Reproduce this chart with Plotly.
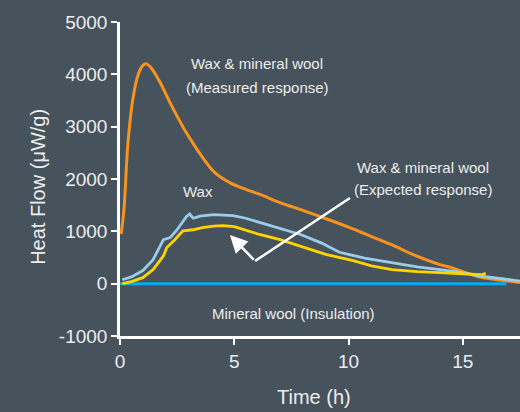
import plotly.graph_objects as go

# ---- data ----
measured_t = [0.05, 0.17, 0.35, 0.57, 0.8, 1.0, 1.15, 1.35, 1.75, 2.2, 2.75, 3.2, 3.6, 4.15, 4.8, 5.45, 6.1,
              7.0, 8.0, 8.9, 10.0, 11.0, 12.0, 12.8, 14.0, 14.5, 15.4, 15.85, 16.6, 17.5]
measured_v = [950, 1400, 2700, 3550, 4000, 4170, 4200, 4130, 3850, 3450, 3000, 2680, 2420, 2120, 1930, 1810, 1710,
              1550, 1400, 1260, 1080, 900, 720, 560, 363, 305, 170, 115, 70, 20]

wax_t = [0.1, 0.5, 1.0, 1.45, 1.9, 2.2, 2.5, 2.9, 3.05, 3.2, 3.5, 4.1, 4.95, 5.5, 6.1, 7.0, 7.9, 8.8,
         9.6, 10.7, 11.9, 13.0, 14.0, 15.0, 15.7, 16.5, 17.5]
wax_v = [75, 130, 250, 460, 840, 880, 1030, 1280, 1330, 1250, 1290, 1320, 1300, 1250, 1170, 1060, 940, 780,
         600, 490, 400, 320, 270, 210, 150, 110, 50]

expected_t = [0.1, 0.5, 1.0, 1.45, 1.9, 2.05, 2.4, 2.6, 2.75, 3.2, 3.6, 4.1, 4.5, 5.0, 6.1, 7.0, 8.0, 9.0,
              10.2, 11.0, 11.9, 13.0, 14.0, 15.0, 15.8, 16.0]
expected_v = [0, 40, 115, 270, 530, 690, 840, 940, 1010, 1030, 1070, 1100, 1110, 1090, 940, 840, 700, 560,
              440, 340, 270, 230, 210, 190, 170, 195]

wool_t = [0.0, 16.9]
wool_v = [0, 0]

y_ticks = [-1000, 0, 1000, 2000, 3000, 4000, 5000]
y_tick_text = ["-1000", "0", "1000", "2000", "3000", "4000", "5000"]
x_ticks = [0, 5, 10, 15]

# pointer: tail -> corner (line), corner -> tip (arrow)
pointer_t = [10.06, 5.91]
pointer_v = [1637, 433]
arrow_tip = (4.81, 930)

BG = "#46525C"
TXT = "#EDEDED"
FONT = "Liberation Sans, Arial"

fig = go.Figure()
fig.add_trace(go.Scatter(x=wool_t, y=wool_v, mode="lines",
                         line=dict(color="#00AEEF", width=3), hoverinfo="skip"))
fig.add_trace(go.Scatter(x=measured_t, y=measured_v, mode="lines", line_shape="spline",
                         line=dict(color="#F7941D", width=3), hoverinfo="skip"))
fig.add_trace(go.Scatter(x=wax_t, y=wax_v, mode="lines",
                         line=dict(color="#9ACCEB", width=2.8), hoverinfo="skip"))
fig.add_trace(go.Scatter(x=expected_t, y=expected_v, mode="lines",
                         line=dict(color="#FFD400", width=2.8), hoverinfo="skip"))
fig.add_trace(go.Scatter(x=pointer_t, y=pointer_v, mode="lines",
                         line=dict(color="white", width=2.5), hoverinfo="skip"))

font_lbl = dict(family=FONT, size=15, color=TXT)
labels = [
    ("Wax & mineral wool", 6.0, 4207),
    ("(Measured response)", 6.0, 3758),
    ("Wax & mineral wool", 13.26, 2229),
    ("(Expected response)", 13.26, 1809),
    ("Wax", 3.41, 1752),
    ("Mineral wool (Insulation)", 7.61, -561),
]
for txt, xx, yy in labels:
    fig.add_annotation(x=xx, y=yy, text=txt, showarrow=False, font=font_lbl,
                       xanchor="center", yanchor="middle")

fig.add_annotation(x=arrow_tip[0], y=arrow_tip[1], ax=pointer_t[1], ay=pointer_v[1],
                   xref="x", yref="y", axref="x", ayref="y", text="", showarrow=True,
                   arrowhead=2, arrowsize=1.4, arrowwidth=2.5, arrowcolor="white")

# axis titles
fig.add_annotation(text="Time (h)", xref="paper", yref="paper", x=0.485, y=-0.195,
                   showarrow=False, xanchor="center", yanchor="middle",
                   font=dict(family=FONT, size=20, color=TXT))
fig.add_annotation(text="Heat Flow (μW/g)", xref="paper", yref="paper", x=-0.205, y=0.475,
                   showarrow=False, textangle=-90, xanchor="center", yanchor="middle",
                   font=dict(family=FONT, size=20, color=TXT))

fig.update_layout(
    width=520, height=412,
    margin=dict(l=120, r=0, t=22, b=76),
    paper_bgcolor=BG, plot_bgcolor=BG,
    showlegend=False,
    font=dict(family=FONT, color=TXT),
)
fig.update_xaxes(range=[0, 17.5], tickvals=x_ticks, showgrid=False, zeroline=False,
                 showline=True, linecolor="white", linewidth=2.5,
                 ticks="outside", ticklen=6, tickwidth=2, tickcolor="white",
                 tickfont=dict(size=19, color=TXT, family=FONT))
fig.update_yaxes(range=[-1000, 5000], tickvals=y_ticks, ticktext=y_tick_text,
                 showgrid=False, zeroline=False,
                 showline=True, linecolor="white", linewidth=2.5,
                 ticks="outside", ticklen=6, tickwidth=2, tickcolor="white",
                 tickfont=dict(size=19, color=TXT, family=FONT))

fig.write_html("out.html")
